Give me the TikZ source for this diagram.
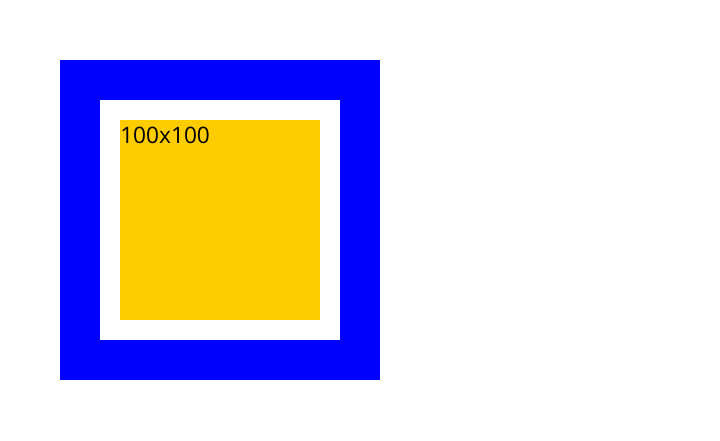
\documentclass[tikz,border=0pt]{standalone}
\usepackage{fontspec}
\setmainfont{Open Sans}
\definecolor{outerblue}{RGB}{0,0,255}
\definecolor{innergold}{RGB}{255,204,0}
\begin{document}
\begin{tikzpicture}[x=0.75pt,y=-0.75pt,
  outerbox/.style={fill=outerblue,draw=none},
  gapbox/.style={fill=white,draw=none},
  innerbox/.style={fill=innergold,draw=none},
  lbl/.style={inner sep=0pt,anchor=base west,font=\fontsize{17pt}{20pt}\selectfont}]
\useasboundingbox (0,0) rectangle (720,440);
\fill[white] (0,0) rectangle (720,440);
\path[outerbox] (60,60) rectangle (380,380);
\path[gapbox] (100,100) rectangle (340,340);
\path[innerbox] (120,120) rectangle (320,320);
\node[lbl] (label) at (120,143.5) {100x100};
\end{tikzpicture}
\end{document}
